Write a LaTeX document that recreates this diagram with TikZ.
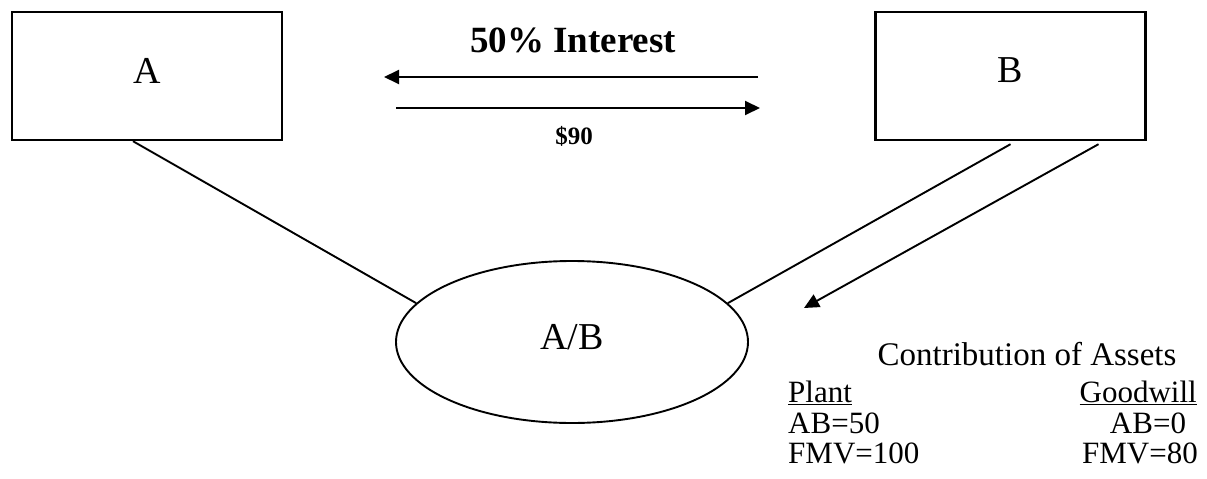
\documentclass[tikz,border=0pt]{standalone}
\usepackage{fontspec}
\setmainfont{Liberation Serif}
\usetikzlibrary{shapes.geometric,arrows.meta}

\begin{document}
\begin{tikzpicture}[x=1pt,y=1pt]
\tikzstyle{every node}+=[inner sep=0pt]
\tikzstyle{party}=[draw=black,line width=2.4pt,minimum width=270pt,minimum height=128pt,text depth=11pt,font=\fontsize{38}{40}\selectfont]
\tikzstyle{venture}=[draw=black,line width=1.9pt,ellipse,minimum width=352pt,minimum height=162pt,text depth=10pt,font=\fontsize{38}{40}\selectfont]
\tikzstyle{link}=[black,line width=1.9pt]
\tikzstyle{flow}=[black,line width=1.9pt,-{Triangle[length=15pt,width=14pt]}]
\tikzstyle{assets}=[font=\fontsize{31}{33}\selectfont]
\useasboundingbox (0,0) rectangle (1207,-479);
\node [party] (A) at (147,-76) {A};
\node [party] (B) at (1010.5,-76) {B};
\node [venture] (AB) at (572,-342) {A/B};
% interest one way, cash the other
\coordinate (intR) at (758,-77);
\coordinate (intL) at (384,-77);
\coordinate (cashL) at (396,-108);
\coordinate (cashR) at (760,-108);
\draw [flow] (intR) -- (intL);
\draw [flow] (cashL) -- (cashR);
\node [anchor=base,font=\bfseries\fontsize{37}{39}\selectfont] (interest) at (573,-52) {50\% Interest};
\node [anchor=base,font=\bfseries\fontsize{25}{27}\selectfont] (cash) at (574,-144) {\$90};
% partners to the venture
\draw [link] ([xshift=-14pt]A.south) -- (AB.166);
\draw [link] ([yshift=-3pt]B.south) -- (AB.14);
\coordinate (contrib) at (804,-308);
\draw [flow] ([xshift=88pt,yshift=-3pt]B.south) -- (contrib);
% contributed assets
\node [anchor=base,font=\fontsize{33}{35}\selectfont] (heading) at (1027,-365) {Contribution of Assets};
\node [assets,anchor=base west] (plant) at (788,-402) {\underline{Plant}};
\node [assets,anchor=base east] (goodwill) at (1197,-402) {\underline{Goodwill}};
\node [assets,anchor=base west] (plantAB) at (788,-433) {AB=50};
\node [assets,anchor=base west] (plantFMV) at (788,-463) {FMV=100};
\node [assets,anchor=base] (goodAB) at (1148,-433) {AB=0};
\node [assets,anchor=base] (goodFMV) at (1140,-463) {FMV=80};
\end{tikzpicture}
\end{document}
